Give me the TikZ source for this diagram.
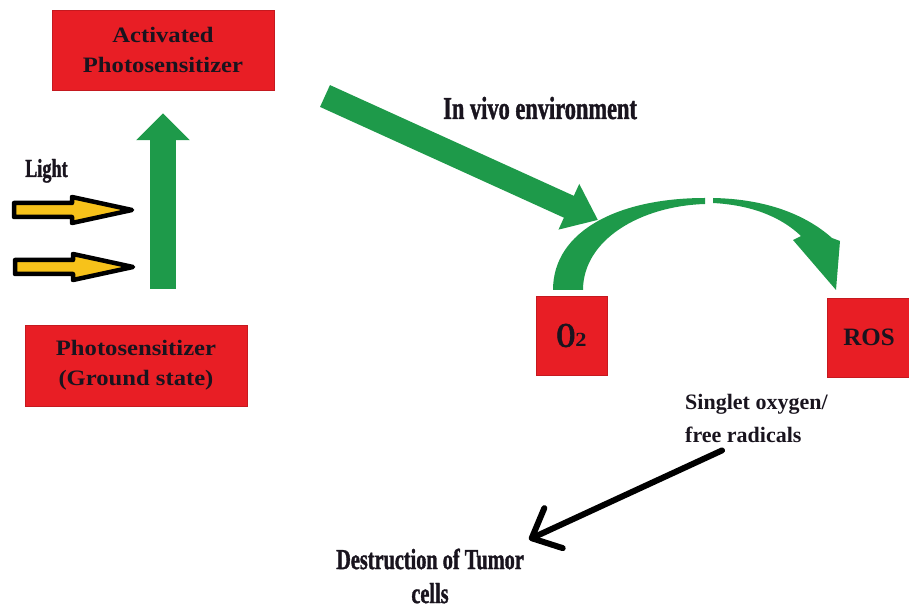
\documentclass[tikz,border=0pt]{standalone}
\usepackage{fontspec}
\setmainfont{Liberation Serif}
\newfontfamily\boxfont{Liberation Serif}[FakeStretch=1.12]
\newfontfamily\condfont{Liberation Serif}[FakeStretch=0.7,FakeBold=1.2]
\usetikzlibrary{arrows.meta,calc}
\definecolor{boxred}{RGB}{232,30,37}
\definecolor{arrowgreen}{RGB}{30,154,74}
\definecolor{rayyellow}{RGB}{247,194,26}
\definecolor{inkdark}{RGB}{25,20,30}
\begin{document}
\begin{tikzpicture}[x=1pt, y=1pt,
    redbox/.style={fill=boxred, draw=boxred!85!black, line width=0.4pt, text=inkdark, align=center,
      inner sep=0pt, font=\boxfont\bfseries\fontsize{22}{30}\selectfont},
    lbl/.style={text=inkdark, inner sep=0pt, font=\condfont\bfseries\fontsize{29}{34}\selectfont},
    bigarrow/.style={draw=arrowgreen, line width=26pt, -{Triangle[length=27pt,width=52pt]}},
    ray/.style={draw=black, fill=rayyellow, line width=4.5pt, line join=round},
    pics/lightray/.style={code={\draw[ray] (0,7) -- (58,7) -- (58,13) -- (118,0) -- (58,-13) -- (58,-7) -- (0,-7) -- cycle;}}]
    \useasboundingbox (0,0) rectangle (909,610);

    \node[redbox, minimum width=222pt, minimum height=80pt] (act) at (163,560) {Activated\\Photosensitizer};
    \node[redbox, minimum width=222pt, minimum height=81pt] (ground) at (136,244.5) {Photosensitizer\\(Ground state)};
    \node[redbox, minimum width=71pt, minimum height=79pt, font=\condfont\bfseries\fontsize{35}{35}\selectfont] (otwo) at (571.5,274.5)
      {O{\boxfont\bfseries\fontsize{20}{20}\selectfont 2}};
    \node[redbox, minimum width=84pt, minimum height=79pt, font=\bfseries\fontsize{25}{25}\selectfont] (ros) at (869,272.5) {ROS};

    \node[lbl, font=\condfont\bfseries\fontsize{26}{30}\selectfont, anchor=base west] (light) at (25,433) {Light};
    \node[lbl, font=\condfont\bfseries\fontsize{32}{36}\selectfont, anchor=base west] (vivo) at (443,491) {In vivo environment};
    \node[text=inkdark, inner sep=0pt, anchor=west, align=left, font=\bfseries\fontsize{22}{33}\selectfont] (singlet) at (685,192)
      {Singlet oxygen/\\free radicals};
    \node[lbl, align=center] (tumor) at (430,34) {Destruction of Tumor\\cells};

    \pic at (14,400) {lightray};
    \pic at (15,343) {lightray};
    \draw[bigarrow] ($(ground.north -| act.south)+(0,36)$) -- ($(act.south)+(0,-23)$);

    \coordinate (envfrom) at (325,514);
    \coordinate (envto) at (598,390);
    \draw[bigarrow, line width=24pt, -{Triangle[length=32pt,width=48pt]}] (envfrom) -- (envto);

    \fill[arrowgreen] (553,320) .. controls (553,380) and (620,412) .. (705,412) -- (705,406)
      .. controls (640,404) and (583,370) .. (583,320) -- cycle;
    \fill[arrowgreen] (713,412) .. controls (765,411) and (805,396) .. (832,372) -- (840,369) -- (836,320)
      -- (793,370) -- (801,374) .. controls (780,394) and (750,405) .. (713,407) -- cycle;

    \draw[line width=6pt, line cap=round, -{Straight Barb[length=24pt,width=44pt,line cap=round,line join=round]}]
      ($(singlet.south west)+(37,-8)$) -- ($(tumor.north east)+(5,9)$);
  \end{tikzpicture}
\end{document}
